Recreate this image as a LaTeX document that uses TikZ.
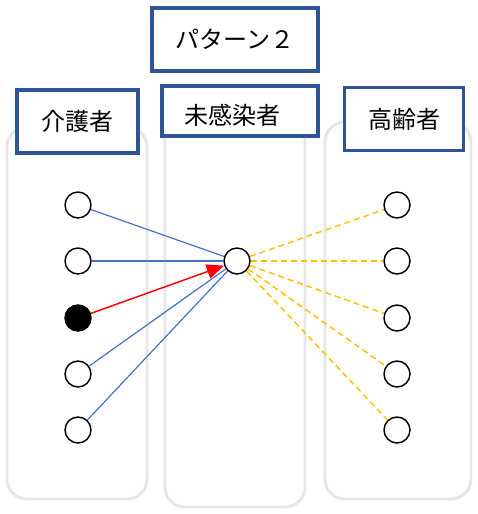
\documentclass[tikz,border=0pt]{standalone}
\usepackage{fontspec}
\usetikzlibrary{arrows.meta, positioning}
\newfontfamily\jpfont{Noto Sans CJK JP}
\definecolor{frameblue}{RGB}{47,85,151}
\definecolor{colgray}{RGB}{230,230,230}
\definecolor{linkblue}{RGB}{68,114,196}
\definecolor{linkorange}{RGB}{255,192,0}
\definecolor{infected}{RGB}{255,0,0}
\tikzset{
  column/.style={draw=colgray, line width=2.2pt, rounded corners=15pt},
  titlebox/.style={rectangle, draw=frameblue, line width=2.3pt, fill=white, font=\jpfont\fontsize{18}{20}\selectfont, inner sep=0pt},
  person/.style={circle, draw=black, line width=1.1pt, fill=white, minimum size=19.5pt, inner sep=0pt},
  sick/.style={person, fill=black},
  contact/.style={draw=linkblue, line width=0.9pt},
  spread/.style={draw=linkorange, line width=1.1pt, dash pattern=on 4.5pt off 3pt},
  infect/.style={-{Triangle[length=13pt,width=11pt]}, draw=infected, fill=infected, line width=1.1pt},
}

\begin{document}
\begin{tikzpicture}[x=0.75pt, y=-0.75pt]
  \useasboundingbox (0,0) rectangle (478,514);
  % Columns
  \draw[column] (7,127) rectangle (147,499);
  \draw[column] (165,118) rectangle (305,507);
  \draw[column] (325,122) rectangle (471,499);

  % Headings
  \node[titlebox, minimum width=124.5pt, minimum height=47.25pt] (pattern) at (235,39.5) {パターン２};
  \node[titlebox, minimum width=90.75pt, minimum height=47.25pt] (carer) at (77.5,121.5) {介護者};
  \node[titlebox, minimum width=117pt, minimum height=37.5pt, text height=22pt, text width=83pt, align=left] (healthy) at (240,111) {未感染者};
  \node[titlebox, minimum width=89.25pt, minimum height=47.25pt] (elder) at (404,119) {高齢者};

  % Carers
  \node[person] (care1) at (78,205) {};
  \node[person] (care2) at (78,261) {};
  \node[sick]   (care3) at (78,318) {};
  \node[person] (care4) at (78,374) {};
  \node[person] (care5) at (78,430) {};
  % Uninfected person
  \node[person] (mid) at (237,261) {};
  % Elderly
  \node[person] (old1) at (397,205) {};
  \node[person] (old2) at (397,261) {};
  \node[person] (old3) at (397,318) {};
  \node[person] (old4) at (397,374) {};
  \node[person] (old5) at (397,430) {};

  % Carers -> uninfected
  \draw[contact] (care1) -- (mid);
  \draw[contact] (care2) -- (mid);
  \draw[infect]  (care3) -- (mid);
  \draw[contact] (care4) -- (mid);
  \draw[contact] (care5) -- (mid);
  % Uninfected -> elderly
  \draw[spread] (mid) -- (old1);
  \draw[spread] (mid) -- (old2);
  \draw[spread] (mid) -- (old3);
  \draw[spread] (mid) -- (old4);
  \draw[spread] (mid) -- (old5);
\end{tikzpicture}
\end{document}
